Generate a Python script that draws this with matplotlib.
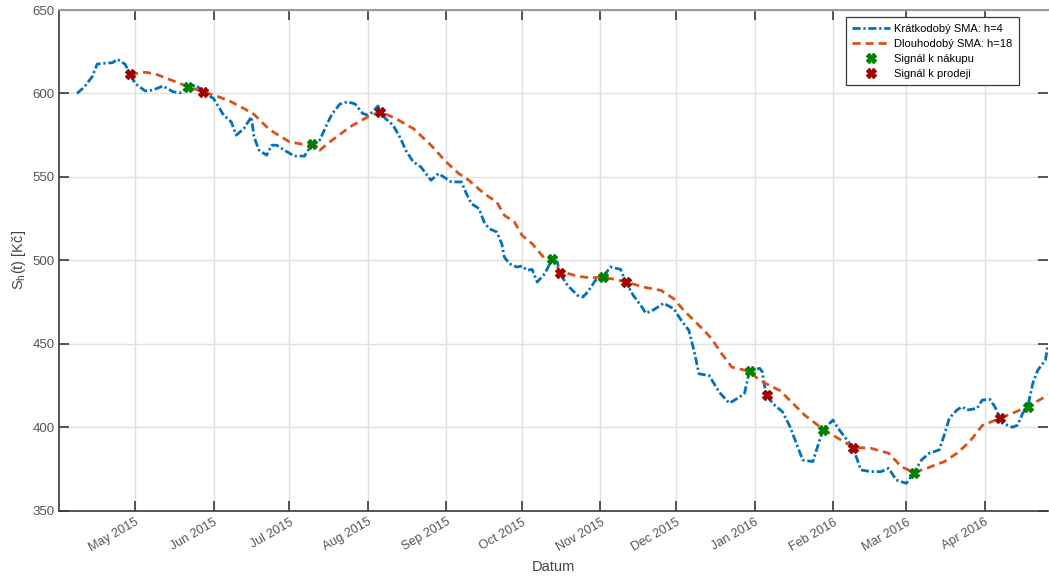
import numpy as np
import pandas as pd
import matplotlib
matplotlib.use("Agg")
from matplotlib import pyplot as plt
import matplotlib.dates as mdates

plt.rcParams['font.family'] = ['Liberation Sans', 'DejaVu Sans']

# short-term SMA (h=4)
short_dates = ['2015-04-08', '2015-04-11', '2015-04-14', '2015-04-16', '2015-04-18', '2015-04-22',
               '2015-04-24', '2015-04-27', '2015-04-29', '2015-05-01', '2015-05-05', '2015-05-08',
               '2015-05-12', '2015-05-16', '2015-05-19', '2015-05-22', '2015-05-25', '2015-05-28',
               '2015-06-01', '2015-06-05', '2015-06-08', '2015-06-10', '2015-06-13', '2015-06-16',
               '2015-06-17', '2015-06-19', '2015-06-22', '2015-06-24', '2015-06-26', '2015-06-29',
               '2015-07-03', '2015-07-07', '2015-07-10', '2015-07-13', '2015-07-16', '2015-07-18',
               '2015-07-21', '2015-07-24', '2015-07-27', '2015-07-30', '2015-08-01', '2015-08-03',
               '2015-08-05', '2015-08-06', '2015-08-08', '2015-08-11', '2015-08-14', '2015-08-16',
               '2015-08-19', '2015-08-22', '2015-08-25', '2015-08-26', '2015-08-29', '2015-09-01',
               '2015-09-03', '2015-09-07', '2015-09-09', '2015-09-11', '2015-09-14', '2015-09-16',
               '2015-09-18', '2015-09-21', '2015-09-23', '2015-09-24', '2015-09-26', '2015-09-29',
               '2015-10-01', '2015-10-03', '2015-10-05', '2015-10-07', '2015-10-10', '2015-10-12',
               '2015-10-13', '2015-10-15', '2015-10-16', '2015-10-19', '2015-10-23', '2015-10-25',
               '2015-10-27', '2015-10-30', '2015-11-02', '2015-11-05', '2015-11-09', '2015-11-11',
               '2015-11-14', '2015-11-17', '2015-11-19', '2015-11-22', '2015-11-26', '2015-11-30',
               '2015-12-03', '2015-12-06', '2015-12-08', '2015-12-10', '2015-12-14', '2015-12-18',
               '2015-12-22', '2015-12-26', '2015-12-28', '2015-12-30', '2016-01-03', '2016-01-04',
               '2016-01-05', '2016-01-06', '2016-01-08', '2016-01-12', '2016-01-15', '2016-01-17',
               '2016-01-20', '2016-01-24', '2016-01-28', '2016-02-01', '2016-02-03', '2016-02-06',
               '2016-02-09', '2016-02-12', '2016-02-16', '2016-02-20', '2016-02-23', '2016-02-26',
               '2016-03-01', '2016-03-04', '2016-03-07', '2016-03-10', '2016-03-14', '2016-03-16',
               '2016-03-18', '2016-03-21', '2016-03-23', '2016-03-25', '2016-03-29', '2016-03-31',
               '2016-04-03', '2016-04-05', '2016-04-07', '2016-04-08', '2016-04-12', '2016-04-14',
               '2016-04-16', '2016-04-18', '2016-04-20', '2016-04-22', '2016-04-25', '2016-04-26']
short_vals = [600, 604, 610, 617.6, 618, 618.4,
              620.5, 617.6, 611.5, 606, 601.5, 602,
              604.5, 601, 600.4, 604, 605, 601,
              597, 587, 583, 575, 579, 586,
              574, 566, 563, 569, 569, 566,
              562.5, 562.5, 569.7, 572, 582, 588,
              593.7, 595, 593.7, 588, 587, 589,
              592.5, 589.1, 585, 581, 573, 566,
              559, 556, 550, 548, 552, 549,
              547, 547, 540, 534, 531, 523,
              519, 517, 510, 502, 498, 496,
              496.6, 494, 494.6, 487, 492, 498,
              500.6, 498.6, 492.2, 485, 479, 478,
              481, 488, 490.2, 496, 494.6, 487.2,
              479, 473, 468.3, 470.3, 474.3, 471,
              464, 458, 446, 432, 431, 421,
              414.4, 418, 420.3, 433.9, 435.3, 433.3,
              424.3, 419.3, 414.4, 409.3, 400.3, 392.4,
              380.4, 379.4, 398.4, 404.3, 399.4, 393.4,
              387.4, 374.4, 373.4, 373.4, 375.4, 368.4,
              366.4, 372.8, 380.4, 384.4, 386.4, 395.4,
              405.4, 410.3, 412.3, 410.3, 411.3, 416.3,
              416.7, 412.3, 405.4, 402.4, 400, 401.3,
              408.4, 412.3, 426.3, 434.3, 440.3, 449.3]

# long-term SMA (h=18)
long_dates = ['2015-04-29', '2015-05-05', '2015-05-09', '2015-05-16', '2015-05-22', '2015-05-28',
              '2015-06-03', '2015-06-08', '2015-06-13', '2015-06-17', '2015-06-23', '2015-07-01',
              '2015-07-10', '2015-07-13', '2015-07-17', '2015-07-25', '2015-08-01', '2015-08-06',
              '2015-08-12', '2015-08-19', '2015-08-26', '2015-09-01', '2015-09-06', '2015-09-10',
              '2015-09-16', '2015-09-21', '2015-09-24', '2015-09-28', '2015-10-01', '2015-10-05',
              '2015-10-10', '2015-10-13', '2015-10-16', '2015-10-23', '2015-10-28', '2015-11-02',
              '2015-11-11', '2015-11-18', '2015-11-25', '2015-11-30', '2015-12-04', '2015-12-08',
              '2015-12-12', '2015-12-15', '2015-12-19', '2015-12-23', '2015-12-30', '2016-01-03',
              '2016-01-11', '2016-01-15', '2016-01-21', '2016-01-25', '2016-01-28', '2016-02-03',
              '2016-02-09', '2016-02-16', '2016-02-23', '2016-02-28', '2016-03-04', '2016-03-09',
              '2016-03-16', '2016-03-21', '2016-03-26', '2016-03-31', '2016-04-07', '2016-04-12',
              '2016-04-18', '2016-04-26']
long_vals = [611.5, 612.7, 611.7, 607.6, 604, 601,
             598, 595, 591, 587.5, 578.5, 571,
             568.5, 566, 571, 580, 586, 589.1,
             585, 579, 569, 559, 552, 548,
             540, 535, 527, 523, 515, 510,
             501, 500.6, 493.5, 490.5, 489.5, 490,
             487.2, 484, 482, 477, 470, 464,
             458, 453, 444, 436, 433.5, 428,
             422, 416, 407, 402.4, 399, 393.4,
             388, 387.4, 384.4, 376.4, 372.8, 375.4,
             379.4, 384.4, 391.3, 401, 405.4, 408.4,
             412.3, 419.3]

buy_dates = ['2015-05-22', '2015-07-10', '2015-10-13', '2015-11-02',
             '2015-12-30', '2016-01-28', '2016-03-04', '2016-04-18']
buy_vals = [604, 569.7, 500.6, 490.2, 433.9, 398.4, 372.8, 412.3]

sell_dates = ['2015-04-29', '2015-05-28', '2015-08-06', '2015-10-16',
              '2015-11-11', '2016-01-06', '2016-02-09', '2016-04-07']
sell_vals = [611.5, 601, 589.1, 492.2, 487.2, 419.3, 387.4, 405.4]

month_ticks = pd.date_range('2015-05-01', '2016-04-01', freq='MS')

short_dates = pd.to_datetime(short_dates)
long_dates = pd.to_datetime(long_dates)
buy_dates = pd.to_datetime(buy_dates)
sell_dates = pd.to_datetime(sell_dates)

fig = plt.figure(figsize=(10.49, 5.76), dpi=100)
ax = fig.add_axes([0.0565, 0.1134, 0.9425, 0.8692])

ax.plot(short_dates, short_vals, color='#0072BD', lw=2, dashes=(2.9, 1.0, 0.8, 1.0),
        label='Krátkodobý SMA: h=4', zorder=3)
ax.plot(long_dates, long_vals, color='#D95319', lw=2, dashes=(2.9, 1.8),
        label='Dlouhodobý SMA: h=18', zorder=3)
ax.plot(buy_dates, buy_vals, ls='none', marker='X', ms=7, color='#008000',
        mec='#008000', label='Signál k nákupu', zorder=4)
ax.plot(sell_dates, sell_vals, ls='none', marker='X', ms=7, color='#A00000',
        mec='#A00000', label='Signál k prodeji', zorder=4)

ax.set_xlim(pd.Timestamp('2015-04-01'), pd.Timestamp('2016-04-26'))
ax.set_ylim(350, 650)
ax.set_yticks(np.arange(350, 651, 50))

ax.set_xticks(month_ticks)
ax.xaxis.set_major_formatter(mdates.DateFormatter('%b %Y'))
for lab in ax.get_xticklabels():
    lab.set_rotation(30)
    lab.set_ha('right')
    lab.set_va('top')
    lab.set_rotation_mode('anchor')

ax.grid(True, color='#e0e0e0', lw=1)
ax.set_axisbelow(True)
ax.tick_params(direction='in', length=7, width=1.2, colors='#3a3a3a',
               labelsize=9, top=True, right=True, labelcolor='#555555')
ax.tick_params(axis='y', labelsize=9.5)
ax.tick_params(axis='x', pad=4)
for side in ['left', 'bottom']:
    ax.spines[side].set_color('#3a3a3a')
    ax.spines[side].set_linewidth(1.2)
ax.spines['top'].set_color('#9a9a9a')
ax.spines['top'].set_linewidth(1.5)
ax.spines['right'].set_visible(False)

ax.set_xlabel('Datum', fontsize=10.5, color='#444444', labelpad=4)
ax.set_ylabel(r'S$_\mathregular{h}$(t) [Kč]', fontsize=10.5, color='#444444', labelpad=3)

leg = ax.legend(loc='upper right', bbox_to_anchor=(0.9707, 0.986), borderaxespad=0,
                fontsize=8, fancybox=False, framealpha=1, edgecolor='#3a3a3a',
                handlelength=3.4, borderpad=0.6, labelspacing=0.45, handletextpad=0.35)
leg.get_frame().set_linewidth(0.9)

fig.savefig('out.png', dpi=100)
